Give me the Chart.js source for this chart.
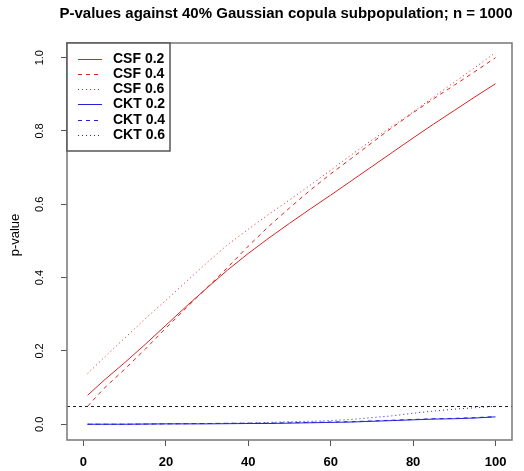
<!DOCTYPE html>
<html>
<head>
<meta charset="utf-8">
<script src="https://cdn.jsdelivr.net/npm/chart.js@4.4.1/dist/chart.umd.min.js"></script>
<style>
  body { margin: 0; background: #fff; }
  canvas { display: block; }
</style>
</head>
<body>
<canvas id="pvalChart" width="524" height="471"></canvas>
<script>
// values
const titleText = 'P-values against 40% Gaussian copula subpopulation; n = 1000';
const yTitle = 'p-value';
const alphaLevel = 0.05;

const xTicks = [0, 20, 40, 60, 80, 100];
const yTicks = [0, 0.2, 0.4, 0.6, 0.8, 1.0];
const yTickLabels = ['0.0', '0.2', '0.4', '0.6', '0.8', '1.0'];

const csfX = [1, 5, 10, 15, 20, 25, 30, 35, 40, 45, 50, 55, 60, 65, 70, 75, 80, 85, 90, 95, 100];
const csf02 = [0.079, 0.12, 0.168, 0.218, 0.27, 0.322, 0.372, 0.421, 0.466, 0.508, 0.548,
  0.587, 0.625, 0.664, 0.703, 0.742, 0.781, 0.819, 0.856, 0.893, 0.929];
const csf04 = [0.049, 0.098, 0.15, 0.205, 0.262, 0.318, 0.373, 0.428, 0.486, 0.54, 0.59,
  0.638, 0.683, 0.725, 0.768, 0.81, 0.85, 0.888, 0.925, 0.962, 1.0];
const csf06 = [0.138, 0.182, 0.235, 0.288, 0.338, 0.39, 0.441, 0.49, 0.532, 0.573, 0.612,
  0.652, 0.693, 0.735, 0.775, 0.813, 0.852, 0.893, 0.933, 0.973, 1.014];

const cktX = [1, 10, 20, 30, 40, 45, 50, 55, 60, 65, 70, 75, 80, 85, 90, 95, 100];
const ckt02 = [0, 0, 0.001, 0.001, 0.002, 0.002, 0.003, 0.004, 0.005, 0.006, 0.008, 0.01, 0.012, 0.014, 0.015, 0.017, 0.02];
const ckt04 = [0, 0, 0.001, 0.002, 0.003, 0.003, 0.004, 0.005, 0.006, 0.007, 0.009, 0.011, 0.013, 0.015, 0.016, 0.018, 0.021];
const ckt06 = [0, 0, 0.001, 0.002, 0.003, 0.005, 0.007, 0.008, 0.01, 0.013, 0.018, 0.023, 0.03, 0.036, 0.041, 0.045, 0.049];

const red = '#dd2222';
const blue = '#2222dd';
const dashed = [4, 4];
const dotted = [1, 3];

const toPoints = (xs, ys) => xs.map((x, i) => ({ x: x, y: ys[i] }));

const series = [
  { label: 'CSF 0.2', xs: csfX, ys: csf02, color: red, dash: [] },
  { label: 'CSF 0.4', xs: csfX, ys: csf04, color: red, dash: dashed },
  { label: 'CSF 0.6', xs: csfX, ys: csf06, color: red, dash: dotted },
  { label: 'CKT 0.2', xs: cktX, ys: ckt02, color: blue, dash: [] },
  { label: 'CKT 0.4', xs: cktX, ys: ckt04, color: blue, dash: dashed },
  { label: 'CKT 0.6', xs: cktX, ys: ckt06, color: blue, dash: dotted },
];

// box, abline, rotated y labels, title and legend drawn R-style
const rDecor = {
  id: 'rDecor',
  afterDatasetsDraw(chart) {
    const ctx = chart.ctx;
    const a = chart.chartArea;
    const yScale = chart.scales.y;

    // horizontal line at alpha
    const ya = Math.round(yScale.getPixelForValue(alphaLevel)) + 0.5;
    ctx.save();
    ctx.strokeStyle = '#222';
    ctx.lineWidth = 1;
    ctx.setLineDash([3, 3]);
    ctx.beginPath();
    ctx.moveTo(a.left, ya);
    ctx.lineTo(a.right, ya);
    ctx.stroke();
    ctx.restore();

    // plot box
    ctx.save();
    ctx.strokeStyle = '#777';
    ctx.lineWidth = 1.5;
    ctx.strokeRect(a.left, a.top, a.right - a.left, a.bottom - a.top);
    ctx.restore();

    // y tick labels, rotated like R's las=0
    ctx.save();
    ctx.fillStyle = '#000';
    ctx.font = '11px "Liberation Sans", Arial, sans-serif';
    ctx.textAlign = 'center';
    ctx.textBaseline = 'middle';
    yTicks.forEach((v, i) => {
      ctx.save();
      ctx.translate(40, yScale.getPixelForValue(v));
      ctx.rotate(-Math.PI / 2);
      ctx.fillText(yTickLabels[i], 0, 0);
      ctx.restore();
    });
    ctx.font = '13px "Liberation Sans", Arial, sans-serif';
    ctx.translate(15, 235);
    ctx.rotate(-Math.PI / 2);
    ctx.fillText(yTitle, 0, 0);
    ctx.restore();

    // main title
    ctx.save();
    ctx.fillStyle = '#000';
    ctx.font = 'bold 15px "Liberation Sans", Arial, sans-serif';
    ctx.textAlign = 'center';
    ctx.textBaseline = 'alphabetic';
    ctx.fillText(titleText, 286, 18);
    ctx.restore();

    // legend in top-left corner
    const lx = a.left, ly = a.top, lw = 103, lh = 108;
    ctx.save();
    ctx.fillStyle = '#fff';
    ctx.fillRect(lx, ly, lw, lh);
    ctx.strokeStyle = '#555';
    ctx.lineWidth = 1.5;
    ctx.strokeRect(lx, ly, lw, lh);
    ctx.font = 'bold 14px "Liberation Sans", Arial, sans-serif';
    ctx.textAlign = 'left';
    ctx.textBaseline = 'middle';
    chart.data.datasets.forEach((ds, i) => {
      const yy = Math.round(ly + 15.5 + i * 15.3) + 0.5;
      ctx.strokeStyle = ds.borderColor;
      ctx.lineWidth = 1;
      ctx.setLineDash(ds.borderDash);
      ctx.beginPath();
      ctx.moveTo(lx + 11, yy);
      ctx.lineTo(lx + 35, yy);
      ctx.stroke();
      ctx.setLineDash([]);
      ctx.fillStyle = '#000';
      ctx.fillText(ds.label, lx + 46, yy);
    });
    ctx.restore();
  }
};

const chart = new Chart(document.getElementById('pvalChart'), {
  type: 'line',
  data: {
    datasets: series.map(s => ({
      label: s.label,
      data: toPoints(s.xs, s.ys),
      borderColor: s.color,
      borderDash: s.dash,
      borderWidth: 1,
      pointRadius: 0,
      tension: 0,
      fill: false,
    })),
  },
  options: {
    responsive: false,
    animation: false,
    events: [],
    layout: { padding: { left: 0, right: 12, top: 43, bottom: 0 } },
    plugins: {
      legend: { display: false },
      tooltip: { enabled: false },
      title: { display: false },
    },
    scales: {
      x: {
        type: 'linear',
        min: -4,
        max: 104,
        afterBuildTicks: (scale) => { scale.ticks = xTicks.map(v => ({ value: v })); },
        afterFit: (scale) => { scale.height = 31; },
        grid: { drawOnChartArea: false, drawTicks: true, tickLength: 6, color: '#555' },
        border: { display: false },
        ticks: {
          color: '#000',
          padding: 9,
          maxRotation: 0,
          font: { family: '"Liberation Sans", Arial, sans-serif', size: 13, weight: 'bold' },
        },
      },
      y: {
        type: 'linear',
        min: -0.043,
        max: 1.04,
        afterBuildTicks: (scale) => { scale.ticks = yTicks.map(v => ({ value: v })); },
        afterFit: (scale) => { scale.width = 67; },
        grid: { drawOnChartArea: false, drawTicks: true, tickLength: 6, color: '#555' },
        border: { display: false },
        ticks: { display: false },
      },
    },
  },
  plugins: [rDecor],
});
</script>
</body>
</html>
